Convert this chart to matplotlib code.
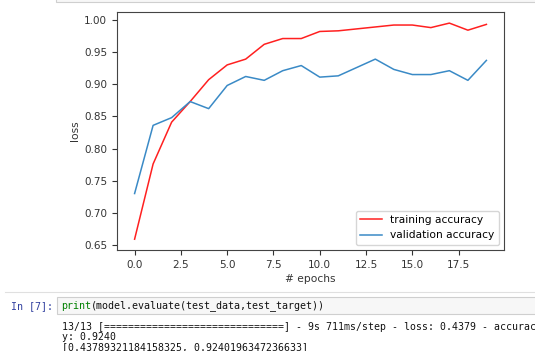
import matplotlib
matplotlib.use("Agg")
import matplotlib.pyplot as plt
from matplotlib.patches import Rectangle
from matplotlib.lines import Line2D

# values
epochs = list(range(20))
train_acc = [0.659, 0.776, 0.841, 0.873, 0.907, 0.930, 0.939, 0.962, 0.971, 0.971,
             0.982, 0.983, 0.986, 0.989, 0.992, 0.992, 0.988, 0.995, 0.984, 0.993]
val_acc = [0.730, 0.836, 0.848, 0.873, 0.862, 0.898, 0.912, 0.906, 0.921, 0.929,
           0.911, 0.913, 0.926, 0.939, 0.923, 0.915, 0.915, 0.921, 0.906, 0.937]

cell_prompt = "In [7]:"
code_kw = "print"
code_rest = "(model.evaluate(test_data,test_target))"
# keras output as shown, wrapped at the right edge of the cell
output_lines = [
    "13/13 [==============================] - 9s 711ms/step - loss: 0.4379 - accurac",
    "y: 0.9240",
    "[0.43789321184158325, 0.9240196347236633]",
]

W, H = 535, 351


def fx(x):
    return x / W


def fy(y):
    return 1 - y / H


fig = plt.figure(figsize=(W / 100, H / 100), dpi=100)
fig.patch.set_facecolor("white")

# previous cell box edge at the top
fig.add_artist(Rectangle((fx(56), fy(2)), 1, 0.02, transform=fig.transFigure,
                         facecolor="#f7f7f7", edgecolor="#cfcfcf", lw=0.8))

# the chart
ax = fig.add_axes([fx(117), fy(250), (504 - 117) / W, (250 - 12.3) / H])
ax.plot(epochs, train_acc, color="#ff2020", lw=1.1, label="training accuracy")
ax.plot(epochs, val_acc, color="#3a8ac6", lw=1.1, label="validation accuracy")
ax.set_xlabel("# epochs", fontsize=7.7, color="#333333", labelpad=3)
ax.set_ylabel("loss", fontsize=7.7, color="#333333", labelpad=3)
ax.tick_params(labelsize=7.5, colors="#333333")
for s in ax.spines.values():
    s.set_color("#444444")
ax.legend(loc="lower right", fontsize=7.7, handlelength=2.0)

# separator and input cell
fig.add_artist(Line2D([fx(5), 1], [fy(292), fy(292)], transform=fig.transFigure,
                      color="#e0e0e0", lw=0.8))
fig.add_artist(Rectangle((fx(57), fy(314)), 1, (314 - 297) / H, transform=fig.transFigure,
                         facecolor="#f7f7f7", edgecolor="#cfcfcf", lw=0.8))

mono = "DejaVu Sans Mono"
fs = 7.2
cw = 0.602 * fs * 100 / 72  # char width in px

fig.text(fx(11), fy(306), cell_prompt, family=mono, fontsize=fs, color="#303f9f", va="center")
fig.text(fx(61), fy(306), code_kw, family=mono, fontsize=fs, color="#008000", va="center")
fig.text(fx(61 + cw * len(code_kw)), fy(306), code_rest, family=mono, fontsize=fs,
         color="#111111", va="center")

for i, line in enumerate(output_lines):
    fig.text(fx(62), fy(326.5 + i * 10.3), line, family=mono, fontsize=7.1,
             color="#111111", va="center")

fig.savefig("out.png", dpi=100)
